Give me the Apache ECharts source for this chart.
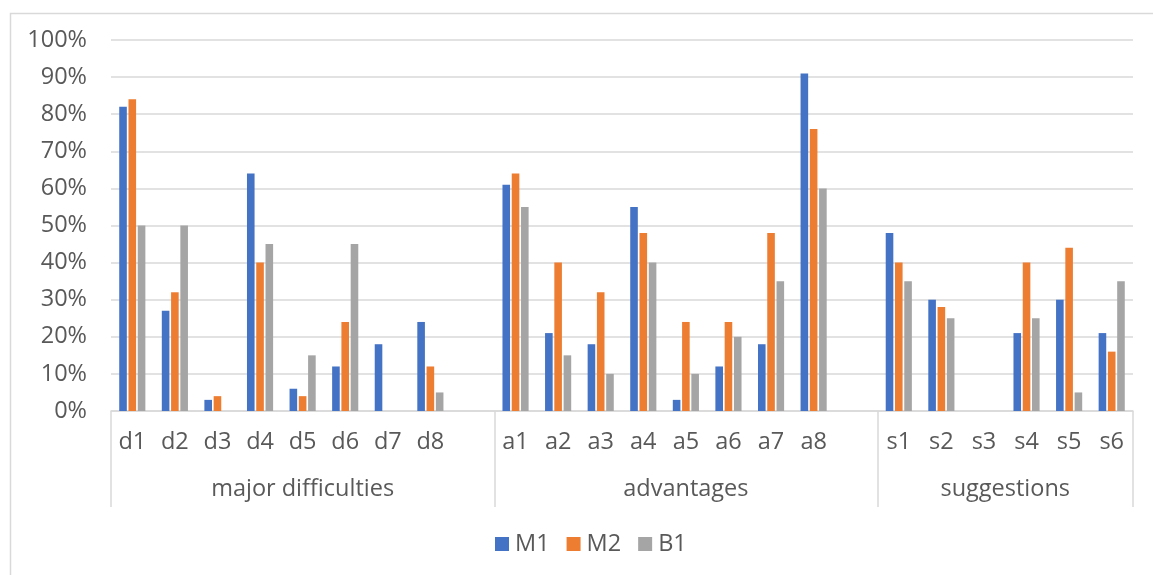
<!DOCTYPE html>
<html>
<head>
<meta charset="utf-8">
<title>M1 / M2 / B1 responses</title>
<script src="https://cdn.jsdelivr.net/npm/echarts@6/dist/echarts.min.js"></script>
<style>
  html, body { margin: 0; padding: 0; background: #ffffff; }
  #chart { width: 1153px; height: 575px; }
</style>
</head>
<body>
<div id="chart"></div>
<script>
// Category groups and their items
const groupNames = ['major difficulties', 'advantages', 'suggestions'];
const difficultyItems = ['d1', 'd2', 'd3', 'd4', 'd5', 'd6', 'd7', 'd8'];
const advantageItems = ['a1', 'a2', 'a3', 'a4', 'a5', 'a6', 'a7', 'a8'];
const suggestionItems = ['s1', 's2', 's3', 's4', 's5', 's6'];

// Share of respondents (%) per item, in the order d1..d8, a1..a8, s1..s6
const seriesNames = ['M1', 'M2', 'B1'];
const m1Values = [82, 27, 3, 64, 6, 12, 18, 24,   61, 21, 18, 55, 3, 12, 18, 91,   48, 30, 0, 21, 30, 21];
const m2Values = [84, 32, 4, 40, 4, 24, 0, 12,    64, 40, 32, 48, 24, 24, 48, 76,  40, 28, 0, 40, 44, 16];
const b1Values = [50, 50, 0, 45, 15, 45, 0, 5,    55, 15, 10, 40, 10, 20, 35, 60,  35, 25, 0, 25, 5, 35];

// Value-axis tick labels
const yTicks = [0, 10, 20, 30, 40, 50, 60, 70, 80, 90, 100];

const colors = ['#4472C4', '#ED7D31', '#A5A5A5'];
const textColor = '#595959';
const lineColor = '#D9D9D9';
const fontFamily = '"Open Sans", "Noto Sans", sans-serif';
const fontSize = 23.5;

// Lay the groups out on one category axis, with an empty slot after each group but the last
const groups = [difficultyItems, advantageItems, suggestionItems];
const categories = [];
const groupBounds = [0];
const groupCenters = [];
groups.forEach((items, gi) => {
  const start = categories.length;
  items.forEach(it => categories.push(it));
  if (gi < groups.length - 1) categories.push('');
  const end = categories.length;
  groupBounds.push(end);
  groupCenters.push((start + end) / 2);
});

// Spread a flat value list over the slots, leaving the spacer slots empty
function toSlots(values) {
  const out = [];
  let k = 0;
  categories.forEach(c => {
    if (c === '') out.push(null);
    else out.push(values[k++]);
  });
  return out;
}
const seriesValues = [m1Values, m2Values, b1Values];

const chart = echarts.init(document.getElementById('chart'), null, { renderer: 'canvas' });

chart.setOption({
  animation: false,
  backgroundColor: '#ffffff',
  color: colors,
  textStyle: { fontFamily: fontFamily },
  graphic: [{
    type: 'rect',
    left: 8, top: 11,
    shape: { width: 1180, height: 620 },
    style: { fill: 'none', stroke: lineColor, lineWidth: 1.5 },
    silent: true,
    z: -1
  }],
  grid: { left: 111, right: 20, top: 40, bottom: 164, containLabel: false },
  legend: {
    data: seriesNames,
    left: 490,
    top: 527,
    icon: 'rect',
    itemWidth: 14,
    itemHeight: 14,
    itemGap: 17,
    textStyle: { color: textColor, fontSize: fontSize, fontFamily: fontFamily, padding: [0, 0, 0, 1] }
  },
  xAxis: [
    {
      type: 'category',
      data: categories,
      boundaryGap: true,
      axisLine: { show: true, lineStyle: { color: lineColor, width: 1.5 } },
      axisTick: { show: false },
      axisLabel: {
        interval: 0,
        color: textColor,
        fontSize: fontSize,
        fontFamily: fontFamily,
        margin: 19
      },
      splitLine: { show: false }
    },
    {
      type: 'value',
      position: 'bottom',
      min: 0,
      max: categories.length,
      axisLine: { show: false },
      splitLine: { show: false },
      axisTick: {
        show: true,
        inside: false,
        length: 96,
        customValues: groupBounds,
        lineStyle: { color: lineColor, width: 1.5 }
      },
      axisLabel: {
        show: true,
        customValues: groupCenters,
        color: textColor,
        fontSize: fontSize,
        fontFamily: fontFamily,
        margin: 66,
        formatter: function (v) {
          const i = groupCenters.indexOf(v);
          return i >= 0 ? groupNames[i] : '';
        }
      }
    }
  ],
  yAxis: {
    type: 'value',
    min: yTicks[0],
    max: yTicks[yTicks.length - 1],
    interval: yTicks[1] - yTicks[0],
    axisLine: { show: false },
    axisTick: { show: false },
    axisLabel: {
      color: textColor,
      fontSize: fontSize,
      fontFamily: fontFamily,
      margin: 24,
      formatter: '{value}%'
    },
    splitLine: { show: true, lineStyle: { color: lineColor, width: 1.5 } }
  },
  series: seriesNames.map((name, i) => ({
    name: name,
    type: 'bar',
    xAxisIndex: 0,
    data: toSlots(seriesValues[i]),
    barWidth: 7.6,
    barGap: '22%',
    itemStyle: { color: colors[i] }
  }))
});
</script>
</body>
</html>
